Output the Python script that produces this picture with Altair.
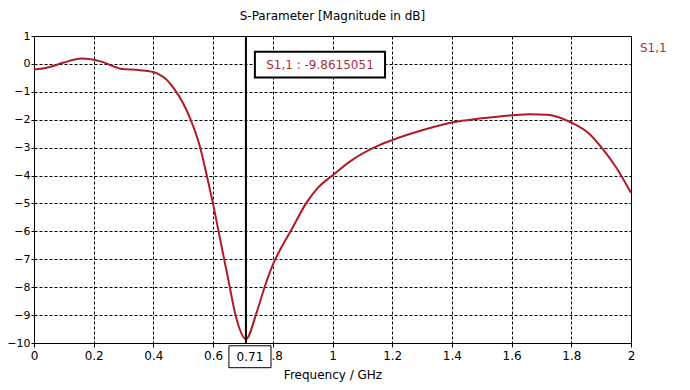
import altair as alt
import pandas as pd

freq = [0.0, 0.05, 0.1, 0.16, 0.22, 0.29, 0.35, 0.4, 0.42, 0.44, 0.466, 0.5, 0.523, 0.556, 0.578,
        0.599, 0.617, 0.636, 0.654, 0.673, 0.71, 0.746, 0.774, 0.802, 0.83, 0.863, 0.913,
        0.95, 1.0, 1.058, 1.159, 1.2, 1.3, 1.4, 1.5, 1.6, 1.662, 1.72, 1.8, 1.86, 1.907, 1.95, 2.0]
s11 = [-0.2, -0.12, 0.05, 0.19, 0.1, -0.17, -0.22, -0.29, -0.38, -0.52, -0.84, -1.42, -1.95, -2.97, -3.96,
       -4.97, -5.93, -6.94, -7.9, -8.9, -9.86, -8.9, -7.95, -7.15, -6.55, -5.93, -4.97,
       -4.45, -4.0, -3.5, -2.9, -2.73, -2.38, -2.1, -1.95, -1.84, -1.8, -1.82, -2.1, -2.5, -3.07, -3.7, -4.62]

x_ticks = [0, 0.2, 0.4, 0.6, 0.8, 1.0, 1.2, 1.4, 1.6, 1.8, 2.0]
y_ticks = [1, 0, -1, -2, -3, -4, -5, -6, -7, -8, -9, -10]

marker_f = 0.71
marker_label = "S1,1 : -9.8615051"
marker_xlabel = "0.71"

RED = "#b01a22"
TXT_RED = "#a8323a"
FONT = "DejaVu Sans"

df = pd.DataFrame({"f": freq, "s": s11})

xs = alt.Scale(domain=[0, 2], nice=False, zero=False)
ys = alt.Scale(domain=[-10, 1], nice=False, zero=False)

xaxis = alt.Axis(values=x_ticks, title="Frequency / GHz", grid=True, gridDash=[3, 2],
                 gridColor="black", gridOpacity=1, gridWidth=1, domainColor="black",
                 tickColor="black", tickSize=4, labelPadding=3, labelFont=FONT, labelFontSize=12,
                 labelColor="black", titleFont=FONT, titleFontSize=12, titleFontWeight="normal",
                 titleColor="black", titlePadding=8, labelFlush=False, labelOverlap=False,
                 labelExpr="datum.value == 0 ? '0' : format(datum.value, '.1~f')")
yaxis = alt.Axis(values=y_ticks, title=None, grid=True, gridDash=[3, 2],
                 gridColor="black", gridOpacity=1, gridWidth=1, domainColor="black",
                 tickColor="black", tickSize=3, labelPadding=1, labelFont=FONT, labelFontSize=11,
                 labelColor="black", labelFlush=False, labelOverlap=False)


def X(field):
    return alt.X(field, scale=xs, axis=xaxis)


def Y(field):
    return alt.Y(field, scale=ys, axis=yaxis)


line = alt.Chart(df).mark_line(color=RED, strokeWidth=2, interpolate="monotone").encode(
    x=X("f:Q"), y=Y("s:Q"))

mk = pd.DataFrame({"f": [marker_f], "top": [1], "bot": [-10], "lab": [marker_label],
                   "xl": [marker_xlabel]})

vline = alt.Chart(mk).mark_rule(color="black", strokeWidth=2).encode(
    x=X("f:Q"), y=Y("top:Q"), y2="bot:Q")

box = alt.Chart(pd.DataFrame({"x1": [0.74], "x2": [1.176], "y1": [0.44], "y2": [-0.49]})).mark_rect(
    fill="white", stroke="black", strokeWidth=2).encode(
    x=X("x1:Q"), x2="x2:Q", y=Y("y1:Q"), y2="y2:Q")

box_text = alt.Chart(pd.DataFrame({"x": [0.958], "y": [-0.03], "t": [marker_label]})).mark_text(
    font=FONT, fontSize=12, color=TXT_RED, align="center", baseline="middle").encode(
    x=X("x:Q"), y=Y("y:Q"), text="t:N")

xbox = alt.Chart(pd.DataFrame({"x1": [0.653], "x2": [0.794], "y1": [-10.1], "y2": [-10.885]})).mark_rect(
    fill="white", stroke="black", strokeWidth=1).encode(
    x=X("x1:Q"), x2="x2:Q", y=Y("y1:Q"), y2="y2:Q")

xbox_text = alt.Chart(mk).mark_text(font=FONT, fontSize=12, color="black", align="center",
                                    baseline="middle", dx=4).encode(
    x=X("f:Q"), y=alt.value(321), text="xl:N")

legend = alt.Chart(pd.DataFrame({"t": ["S1,1"]})).mark_text(
    font=FONT, fontSize=12, color=TXT_RED, align="left", baseline="middle").encode(
    x=alt.value(606), y=alt.value(12), text="t:N")

chart = alt.layer(line, vline, box, box_text, xbox, xbox_text, legend).properties(
    width=597, height=307,
    title=alt.TitleParams("S-Parameter [Magnitude in dB]", font=FONT, fontSize=12,
                          fontWeight="normal", color="black", anchor="middle", offset=7),
    autosize=alt.AutoSizeParams(type="none"),
    padding={"left": 26, "top": 28, "right": 51, "bottom": 39},
).configure(background="white").configure_view(stroke="black", strokeWidth=1)

chart.save("out.html", embed_options={"renderer": "svg", "actions": False})
